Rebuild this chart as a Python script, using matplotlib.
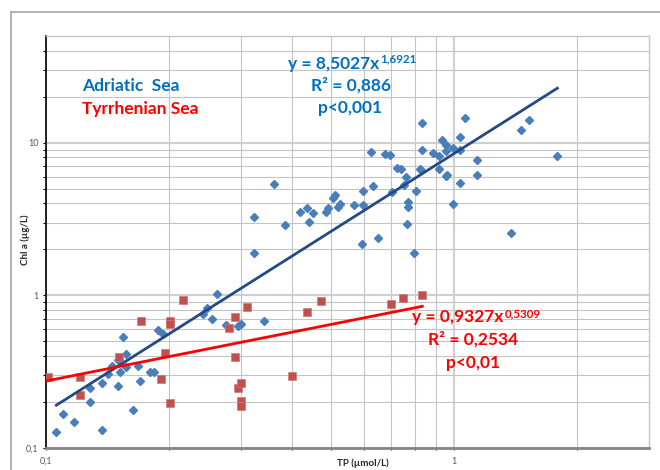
import numpy as np
import matplotlib
matplotlib.use("Agg")
import matplotlib.pyplot as plt
from matplotlib.lines import Line2D
from matplotlib.ticker import FixedLocator, NullFormatter

plt.rcParams["font.family"] = ["Lato", "DejaVu Sans"]

# Adriatic Sea: TP (umol/L) vs Chl a (ug/L)
adr_tp = [0.106, 0.110, 0.117, 0.128, 0.128, 0.137, 0.137, 0.142, 0.145, 0.150,
          0.150, 0.152, 0.154, 0.157, 0.157, 0.163, 0.168, 0.170, 0.180, 0.184,
          0.188, 0.194, 0.242, 0.248, 0.255, 0.263, 0.276, 0.295, 0.300, 0.323,
          0.324, 0.342, 0.361, 0.386, 0.420, 0.436, 0.442, 0.450, 0.486, 0.491,
          0.506, 0.509, 0.520, 0.525, 0.569, 0.597, 0.599, 0.631, 0.624, 0.677,
          0.696, 0.596, 0.649, 0.703, 0.724, 0.741, 0.752, 0.763, 0.770, 0.771,
          0.764, 0.796, 0.807, 0.823, 0.827, 0.833, 0.833, 0.885, 0.919, 0.920,
          0.933, 0.952, 0.955, 0.956, 0.962, 0.994, 0.992, 1.033, 1.031, 1.036,
          1.062, 1.135, 1.135, 1.376, 1.457, 1.523, 1.789]
adr_chla = [0.128, 0.167, 0.149, 0.247, 0.199, 0.266, 0.131, 0.306, 0.342, 0.375,
            0.253, 0.317, 0.533, 0.412, 0.340, 0.178, 0.347, 0.273, 0.316, 0.316,
            0.592, 0.558, 0.754, 0.826, 0.696, 1.020, 0.643, 0.629, 0.648, 1.89,
            3.26, 0.675, 5.34, 2.89, 3.54, 3.72, 3.02, 3.47, 3.50, 3.72,
            4.35, 4.51, 3.78, 3.95, 3.89, 3.89, 4.86, 5.21, 8.70, 8.37,
            8.28, 2.18, 2.36, 4.72, 6.78, 6.70, 5.32, 6.00, 4.09, 3.78,
            2.93, 1.89, 4.85, 6.77, 6.63, 9.02, 13.36, 8.53, 8.22, 6.73,
            10.38, 9.73, 8.86, 6.08, 6.17, 9.25, 3.94, 10.82, 9.00, 5.44,
            14.48, 7.74, 6.12, 2.56, 12.13, 14.05, 8.16]

# Tyrrhenian Sea
tyr_tp = [0.101, 0.121, 0.121, 0.151, 0.171, 0.191, 0.196, 0.201, 0.201, 0.201,
          0.216, 0.281, 0.291, 0.291, 0.296, 0.301, 0.301, 0.301, 0.311, 0.401,
          0.436, 0.471, 0.701, 0.750, 0.835]
tyr_chla = [0.290, 0.291, 0.223, 0.394, 0.683, 0.283, 0.419, 0.683, 0.653, 0.197,
            0.932, 0.610, 0.718, 0.394, 0.247, 0.266, 0.202, 0.188, 0.843, 0.296,
            0.774, 0.918, 0.877, 0.956, 1.005]

# power-law fits y = a * x^b
adr_fit = (8.5027, 1.6921)
tyr_fit = (0.9327, 0.5309)

W, H = 660, 470
fig = plt.figure(figsize=(W / 100, H / 100), dpi=100)
ax = fig.add_axes([46 / W, 1 - 448 / H, 603 / W, 412 / H])

ax.set_xscale("log")
ax.set_yscale("log")
ax.set_xlim(0.1, 3)
ax.set_ylim(0.1, 50)

# grid
xmin_ = [0.2, 0.3, 0.4, 0.5, 0.6, 0.7, 0.8, 0.9, 2]
ymin_ = [0.2, 0.3, 0.4, 0.5, 0.6, 0.7, 0.8, 0.9, 2, 3, 4, 5, 6, 7, 8, 9, 20, 30, 40]
ax.xaxis.set_major_locator(FixedLocator([0.1, 1]))
ax.xaxis.set_minor_locator(FixedLocator(xmin_))
ax.yaxis.set_major_locator(FixedLocator([0.1, 1, 10]))
ax.yaxis.set_minor_locator(FixedLocator(ymin_))
ax.set_xticklabels(["0,1", "1"])
ax.set_yticklabels(["0,1", "1", "10"])
ax.xaxis.set_minor_formatter(NullFormatter())
ax.yaxis.set_minor_formatter(NullFormatter())
ax.grid(True, which="major", color="#D0D0D0", lw=1.5)
ax.grid(True, which="minor", color="#C4C4C4", lw=0.8)
ax.set_axisbelow(True)

ax.tick_params(axis="y", which="both", direction="out", length=2.5, width=0.8,
               color="black", labelsize=6.5, labelcolor="#595959", pad=3)
ax.tick_params(axis="x", which="both", direction="out", length=1.5, width=0.8,
               color="#333333", labelsize=6.5, labelcolor="#595959", pad=5)
ax.spines["left"].set_color("black")
ax.spines["left"].set_linewidth(1.2)
ax.spines["bottom"].set_color("#868686")
ax.spines["bottom"].set_linewidth(2)
for s in ["top", "right"]:
    ax.spines[s].set_color("#C4C4C4")
    ax.spines[s].set_linewidth(1)

# points
ax.plot(adr_tp, adr_chla, ls="none", marker="D", ms=4.0, color="#4A7EBB",
        mec="#4A7EBB", zorder=3)
ax.plot(tyr_tp, tyr_chla, ls="none", marker="s", ms=5.2, color="#C0504D",
        mec="#D07A78", mew=0.5, zorder=3)

# trend lines
xa = np.geomspace(min(adr_tp), max(adr_tp), 50)
ax.plot(xa, adr_fit[0] * xa ** adr_fit[1], color="#234A84", lw=2, zorder=4)
xt = np.geomspace(0.1, max(tyr_tp), 50)
ax.plot(xt, tyr_fit[0] * xt ** tyr_fit[1], color="#FF0000", lw=2, zorder=4)

BLUE = "#0070C0"
RED = "#FF0000"
FS = 12.5


def ftxt(px, py, s, **kw):
    return fig.text(px / W, 1 - py / H, s, **kw)


ftxt(82, 91, "Adriatic  Sea", color=BLUE, fontsize=FS, weight="bold", va="baseline")
ftxt(82, 114, "Tyrrhenian Sea", color=RED, fontsize=FS, weight="bold", va="baseline")

t1 = ftxt(288, 69, "y = 8,5027x", color=BLUE, fontsize=FS, weight="bold", va="baseline")
ax.annotate("1,6921", xy=(1, 1), xycoords=t1, xytext=(1, 3), textcoords="offset pixels",
            color=BLUE, fontsize=8.3, weight="bold", va="top", ha="left")
ftxt(351, 91, "R² = 0,886", color=BLUE, fontsize=FS, weight="bold", va="baseline", ha="center")
ftxt(350, 113, "p<0,001", color=BLUE, fontsize=FS, weight="bold", va="baseline", ha="center")

t2 = ftxt(412, 322, "y = 0,9327x", color=RED, fontsize=FS, weight="bold", va="baseline")
ax.annotate("0,5309", xy=(1, 1), xycoords=t2, xytext=(1, 1), textcoords="offset pixels",
            color=RED, fontsize=8.3, weight="bold", va="top", ha="left")
ftxt(473, 345, "R² = 0,2534", color=RED, fontsize=FS, weight="bold", va="baseline", ha="center")
ftxt(473, 368, "p<0,01", color=RED, fontsize=FS, weight="bold", va="baseline", ha="center")

ftxt(25, 240, "Chl a (µg/L)", fontsize=7, weight="bold", rotation=90,
     ha="center", va="center", color="#262626")
ftxt(363, 463, "TP (µmol/L)", fontsize=7, weight="bold", ha="center", va="center",
     color="#262626")

# chart-area frame (partially visible)
fig.add_artist(Line2D([11 / W, 11 / W], [0, 1 - 12 / H], transform=fig.transFigure,
                      color="#A6A6A6", lw=1.2))
fig.add_artist(Line2D([11 / W, 1], [1 - 12 / H, 1 - 12 / H], transform=fig.transFigure,
                      color="#A6A6A6", lw=1.2))

fig.savefig("out.png", dpi=100, facecolor="white")
